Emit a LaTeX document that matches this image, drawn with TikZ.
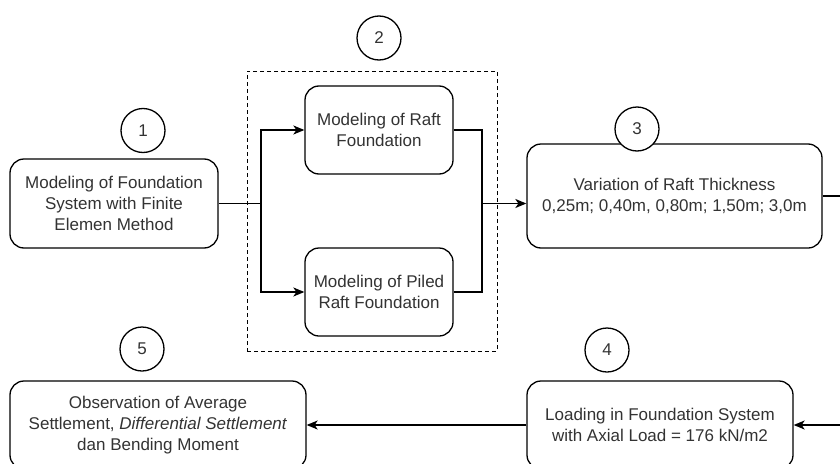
\documentclass[tikz,border=0pt]{standalone}
\usepackage{fontspec}
\setmainfont{Liberation Sans}
\usetikzlibrary{arrows.meta}
\definecolor{txt}{HTML}{333333}
\begin{document}
\begin{tikzpicture}[x=1pt,y=-1pt,
  box/.style={draw,line width=1.3pt,rounded corners=14pt,align=center,text=txt,
    font=\fontsize{17}{21}\selectfont,inner sep=0pt},
  num/.style={draw,circle,line width=1.3pt,fill=white,minimum size=44pt,inner sep=0pt,
    text=txt,font=\fontsize{17}{21}\selectfont},
  link/.style={line width=1.3pt},
  arr/.style={line width=1.3pt,-{Stealth[length=11pt,width=9pt,inset=3pt]}}]
\useasboundingbox[fill=white] (0,0) rectangle (840,463);
% dashed group
\node[draw,line width=1pt,dash pattern=on 4pt off 3pt,minimum width=250pt,minimum height=280pt,inner sep=0pt] (grp) at (372,211) {};
% boxes
\node[box,minimum width=208pt,minimum height=89pt] (b1) at (114,203.5) {Modeling of Foundation\\System with Finite\\Elemen Method};
\node[box,minimum width=148pt,minimum height=88pt] (raft) at (379,130) {Modeling of Raft\\Foundation};
\node[box,minimum width=148pt,minimum height=88pt] (piled) at (379,292) {Modeling of Piled\\Raft Foundation};
\node[box,minimum width=295pt,minimum height=104pt] (b3) at (674.5,196) {Variation of Raft Thickness\\0,25m; 0,40m, 0,80m; 1,50m; 3,0m};
\node[box,minimum width=266pt,minimum height=88pt] (b4) at (660,425) {Loading in Foundation System\\with Axial Load = 176 kN/m2};
\node[box,minimum width=296pt,minimum height=88pt] (b5) at (158,425) {Observation of Average\\Settlement, \textit{Differential Settlement}\\dan Bending Moment};
% number circles
\node[num] (c1) at (143,130.5) {1};
\node[num] (c2) at (379,38) {2};
\node[num] (c3) at (637,129) {3};
\node[num] (c4) at (607,350) {4};
\node[num] (c5) at (142,349) {5};
% connectors
\coordinate (s) at (261,203.5);
\coordinate (m) at (482,203.5);
\coordinate (r3) at (850,196);
\coordinate (r4) at (850,425);
\draw[link] (b1.east) -- (s);
\draw[arr] (s) |- (raft.west);
\draw[arr] (s) |- (piled.west);
\draw[link] (raft.east) -| (m);
\draw[link] (piled.east) -| (m);
\draw[arr] (m) -- (m -| b3.west);
\draw[link] (b3.east) -- (r3);
\draw[arr] (r4) -- (b4.east);
\draw[arr] (b4.west) -- (b5.east);
\end{tikzpicture}
\end{document}
